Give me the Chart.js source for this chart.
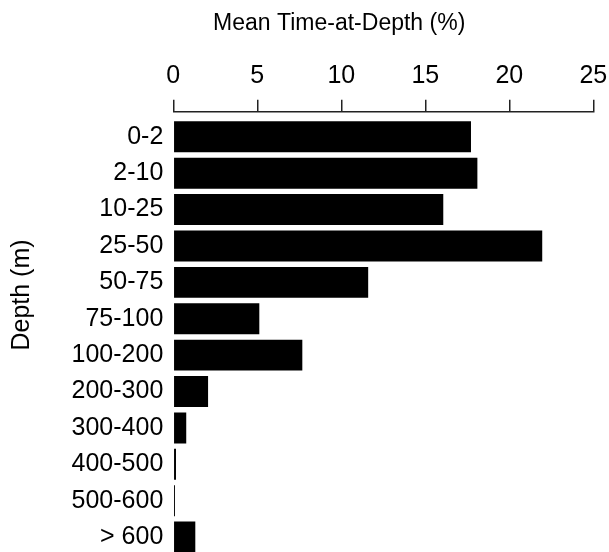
<!DOCTYPE html>
<html>
<head>
<meta charset="utf-8">
<script src="https://cdn.jsdelivr.net/npm/chart.js@4.4.0/dist/chart.umd.min.js"></script>
<style>
  html, body { margin: 0; padding: 0; background: #fff; overflow: hidden; }
  #wrap { width: 609px; height: 552px; }
</style>
</head>
<body>
<div id="wrap"><canvas id="depthChart"></canvas></div>
<script>
// depth bins (m) and mean time spent in each (%)
const depthBins = ["0-2", "2-10", "10-25", "25-50", "50-75", "75-100", "100-200",
  "200-300", "300-400", "400-500", "500-600", "> 600"];
const timeAtDepth = [17.72, 18.1, 16.07, 21.96, 11.6, 5.12, 7.68, 2.07, 0.77, 0.16, 0.1, 1.31];
const xTicks = [0, 5, 10, 15, 20, 25];

const FONT = "'Liberation Sans', Arial, sans-serif";

// axis titles drawn by hand so they sit where the original has them
const axisTitles = {
  id: "axisTitles",
  afterDraw(chart) {
    const { ctx, chartArea } = chart;
    ctx.save();
    ctx.fillStyle = "#000";
    ctx.textAlign = "center";
    ctx.textBaseline = "middle";
    ctx.font = "23px " + FONT;
    ctx.fillText("Mean Time-at-Depth (%)", chartArea.left + chartArea.width * 0.395, 24);
    ctx.translate(22.5, 295);
    ctx.rotate(-Math.PI / 2);
    ctx.font = "25px " + FONT;
    ctx.fillText("Depth (m)", 0, 0);
    ctx.restore();
  }
};

new Chart(document.getElementById("depthChart"), {
  type: "bar",
  data: {
    datasets: [{
      data: timeAtDepth.map((v, i) => ({ x: v, y: i })),
      backgroundColor: "#000",
      borderWidth: 0,
      barPercentage: 0.85,
      categoryPercentage: 1
    }]
  },
  options: {
    indexAxis: "y",
    responsive: true,
    maintainAspectRatio: false,
    animation: false,
    layout: { padding: { top: 51.7, right: 15.7, left: 0, bottom: 0 } },
    plugins: { legend: { display: false }, tooltip: { enabled: false } },
    scales: {
      x: {
        type: "linear",
        position: "top",
        min: 0,
        max: 25,
        afterBuildTicks: s => { s.ticks = xTicks.map(v => ({ value: v })); },
        afterFit: s => { s.paddingRight = 0; s.paddingLeft = 0; },
        grid: { drawOnChartArea: false, drawTicks: true, tickLength: 12, color: "#222", lineWidth: 1.5 },
        border: { display: true, color: "#222", width: 1.5 },
        ticks: { color: "#000", font: { size: 25, family: FONT }, padding: 9, maxRotation: 0 }
      },
      y: {
        type: "linear",
        reverse: true,
        offset: false,
        min: -0.69,
        max: 11.41,
        afterBuildTicks: s => { s.ticks = depthBins.map((_, i) => ({ value: i })); },
        afterFit: s => { s.width = 173.3; s.paddingTop = 0; s.paddingBottom = 0; },
        grid: { display: false, drawTicks: false },
        border: { display: false },
        ticks: {
          color: "#000",
          font: { size: 25, family: FONT },
          padding: 10,
          autoSkip: false,
          callback: v => depthBins[v]
        }
      }
    }
  },
  plugins: [axisTitles]
});
</script>
</body>
</html>
